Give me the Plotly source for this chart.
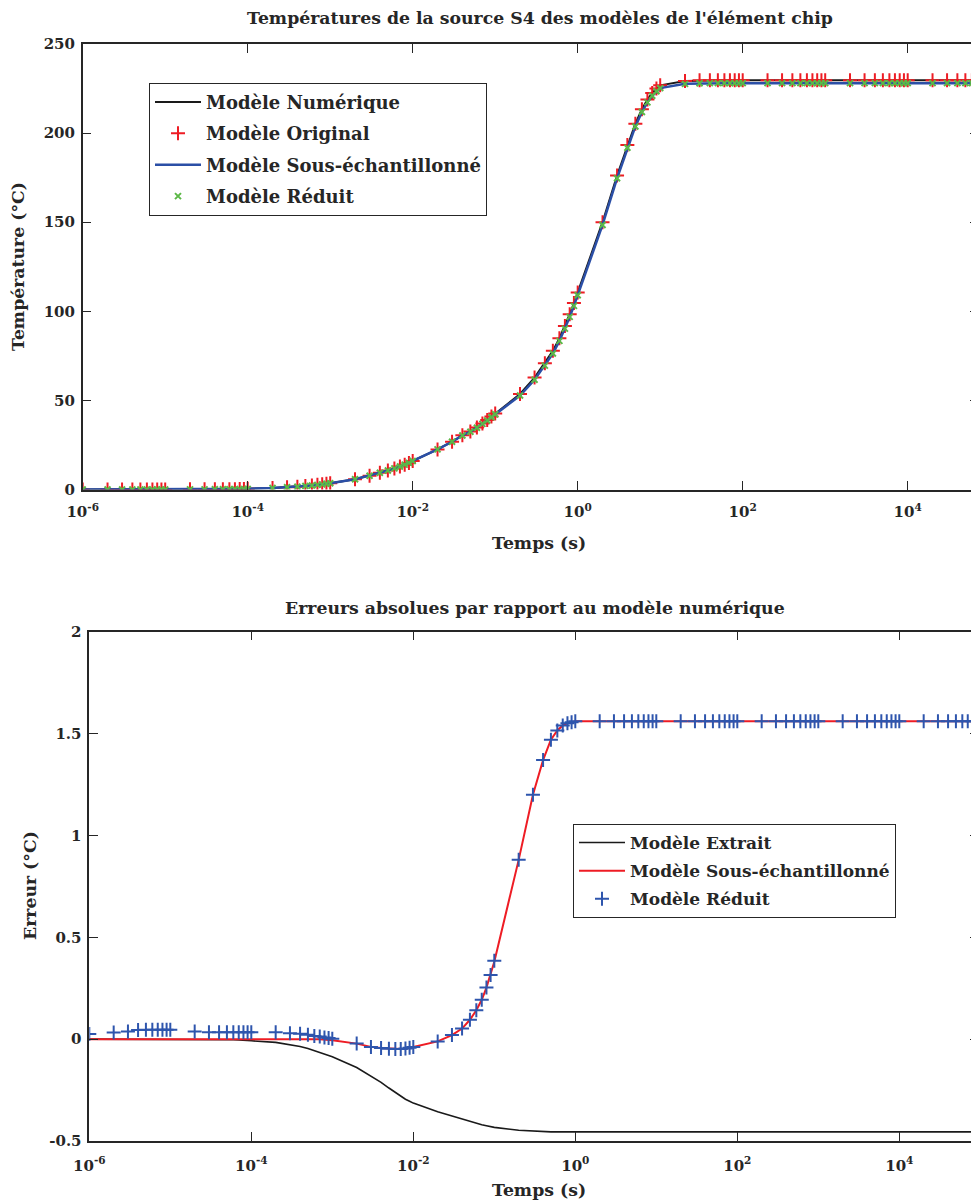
import plotly.graph_objects as go

# ---------------- data ----------------
temps = [1e-6, 2e-6, 3e-6, 4e-6, 5e-6, 6e-6, 7e-6, 8e-6, 9e-6,
         1e-5, 2e-5, 3e-5, 4e-5, 5e-5, 6e-5, 7e-5, 8e-5, 9e-5,
         1e-4, 2e-4, 3e-4, 4e-4, 5e-4, 6e-4, 7e-4, 8e-4, 9e-4,
         1e-3, 2e-3, 3e-3, 4e-3, 5e-3, 6e-3, 7e-3, 8e-3, 9e-3,
         1e-2, 2e-2, 3e-2, 4e-2, 5e-2, 6e-2, 7e-2, 8e-2, 9e-2,
         0.1, 0.2, 0.3, 0.4, 0.5, 0.6, 0.7, 0.8, 0.9,
         1, 2, 3, 4, 5, 6, 7, 8, 9,
         10, 20, 30, 40, 50, 60, 70, 80, 90,
         100, 200, 300, 400, 500, 600, 700, 800, 900,
         1000, 2000, 3000, 4000, 5000, 6000, 7000, 8000, 9000,
         10000, 20000, 30000, 40000, 50000, 60000, 70000, 80000, 90000,
         100000]

temp_numerique = [0.02, 0.03, 0.04, 0.04, 0.05, 0.05, 0.06, 0.06, 0.07,
                  0.07, 0.10, 0.12, 0.14, 0.16, 0.18, 0.20, 0.22, 0.24,
                  0.40, 0.90, 1.30, 1.60, 2.00, 2.30, 2.60, 2.90, 3.20,
                  3.50, 5.70, 7.70, 9.40, 10.6, 11.8, 12.9, 13.9, 14.9,
                  16.0, 22.5, 26.8, 30.4, 32.5, 34.8, 37.0, 39.0, 40.9,
                  42.6, 53.6, 62.8, 70.9, 77.8, 84.9, 91.8, 98.4, 104.6,
                  110.6, 150.0, 176.2, 193.3, 205.3, 213.4, 218.8, 222.5, 225.0,
                  226.8, 229.2, 229.5, 229.6, 229.6, 229.6, 229.6, 229.6, 229.6,
                  229.6, 229.6, 229.6, 229.6, 229.6, 229.6, 229.6, 229.6, 229.6,
                  229.6, 229.6, 229.6, 229.6, 229.6, 229.6, 229.6, 229.6, 229.6,
                  229.6, 229.6, 229.6, 229.6, 229.6, 229.6, 229.6, 229.6, 229.6,
                  229.6]

temp_original = [0.02, 0.03, 0.04, 0.04, 0.05, 0.05, 0.06, 0.06, 0.07,
                 0.07, 0.10, 0.12, 0.14, 0.16, 0.18, 0.20, 0.22, 0.24,
                 0.40, 0.90, 1.30, 1.60, 2.00, 2.30, 2.60, 2.90, 3.20,
                 3.50, 5.70, 7.70, 9.40, 10.6, 11.8, 12.9, 13.9, 14.9,
                 16.0, 22.5, 26.8, 30.4, 32.5, 34.8, 37.0, 39.0, 40.9,
                 42.6, 53.6, 62.8, 70.9, 77.8, 84.9, 91.8, 98.4, 104.6,
                 110.6, 150.0, 176.2, 193.3, 205.3, 213.4, 218.8, 222.5, 225.0,
                 226.8, 229.3, 229.6, 229.7, 229.7, 229.7, 229.7, 229.7, 229.7,
                 229.7, 229.7, 229.7, 229.7, 229.7, 229.7, 229.7, 229.7, 229.7,
                 229.7, 229.7, 229.7, 229.7, 229.7, 229.7, 229.7, 229.7, 229.7,
                 229.7, 229.7, 229.7, 229.7, 229.7, 229.7, 229.7, 229.7, 229.7,
                 229.7]

temp_sous_ech = [0.02, 0.03, 0.04, 0.04, 0.05, 0.05, 0.06, 0.06, 0.07,
                 0.07, 0.10, 0.12, 0.14, 0.16, 0.18, 0.20, 0.22, 0.24,
                 0.40, 0.90, 1.30, 1.60, 2.00, 2.30, 2.60, 2.90, 3.20,
                 3.51, 5.72, 7.74, 9.44, 10.65, 11.85, 12.95, 13.95, 14.94,
                 16.04, 22.51, 26.78, 30.35, 32.41, 34.66, 36.81, 38.75, 40.59,
                 42.22, 52.72, 61.60, 69.53, 76.33, 83.39, 90.26, 96.85, 103.04,
                 109.04, 148.44, 174.64, 191.74, 203.74, 211.84, 217.24, 220.94, 223.44,
                 225.24, 227.64, 227.94, 228.04, 228.04, 228.04, 228.04, 228.04, 228.04,
                 228.04, 228.04, 228.04, 228.04, 228.04, 228.04, 228.04, 228.04, 228.04,
                 228.04, 228.04, 228.04, 228.04, 228.04, 228.04, 228.04, 228.04, 228.04,
                 228.04, 228.04, 228.04, 228.04, 228.04, 228.04, 228.04, 228.04, 228.04,
                 228.04]

temp_reduit = [0.00, 0.00, 0.00, 0.00, 0.00, 0.00, 0.01, 0.01, 0.02,
               0.02, 0.06, 0.09, 0.11, 0.13, 0.15, 0.17, 0.19, 0.21,
               0.37, 0.87, 1.27, 1.57, 1.98, 2.28, 2.59, 2.89, 3.20,
               3.50, 5.72, 7.74, 9.44, 10.65, 11.85, 12.95, 13.95, 14.94,
               16.04, 22.51, 26.78, 30.35, 32.41, 34.66, 36.81, 38.75, 40.59,
               42.22, 52.72, 61.60, 69.53, 76.33, 83.39, 90.26, 96.85, 103.04,
               109.04, 148.44, 174.64, 191.74, 203.74, 211.84, 217.24, 220.94, 223.44,
               225.24, 227.64, 227.94, 228.04, 228.04, 228.04, 228.04, 228.04, 228.04,
               228.04, 228.04, 228.04, 228.04, 228.04, 228.04, 228.04, 228.04, 228.04,
               228.04, 228.04, 228.04, 228.04, 228.04, 228.04, 228.04, 228.04, 228.04,
               228.04, 228.04, 228.04, 228.04, 228.04, 228.04, 228.04, 228.04, 228.04,
               228.04]

err_extrait = [0.000, 0.000, 0.000, 0.000, 0.000, 0.000, 0.000, 0.000, 0.000,
               0.000, 0.000, 0.000, -0.001, -0.002, -0.003, -0.004, -0.005, -0.006,
               -0.008, -0.016, -0.026, -0.036, -0.046, -0.056, -0.065, -0.075, -0.081,
               -0.086, -0.139, -0.180, -0.212, -0.240, -0.262, -0.280, -0.295, -0.305,
               -0.314, -0.356, -0.377, -0.393, -0.405, -0.414, -0.420, -0.425, -0.429,
               -0.433, -0.447, -0.452, -0.454, -0.455, -0.455, -0.455, -0.455, -0.455,
               -0.455, -0.455, -0.455, -0.455, -0.455, -0.455, -0.455, -0.455, -0.455,
               -0.455, -0.455, -0.455, -0.455, -0.455, -0.455, -0.455, -0.455, -0.455,
               -0.455, -0.455, -0.455, -0.455, -0.455, -0.455, -0.455, -0.455, -0.455,
               -0.455, -0.455, -0.455, -0.455, -0.455, -0.455, -0.455, -0.455, -0.455,
               -0.455, -0.455, -0.455, -0.455, -0.455, -0.455, -0.455, -0.455, -0.455,
               -0.455]

err_sous_ech = [0.000, 0.000, 0.000, 0.000, 0.000, 0.001, 0.001, 0.001, 0.002,
                0.002, 0.003, 0.003, 0.003, 0.003, 0.003, 0.003, 0.003, 0.003,
                0.003, 0.003, 0.002, 0.002, 0.001, 0.000, -0.001, -0.002, -0.003,
                -0.005, -0.022, -0.038, -0.044, -0.047, -0.049, -0.049, -0.047, -0.043,
                -0.039, -0.011, 0.020, 0.052, 0.095, 0.142, 0.193, 0.253, 0.315,
                0.380, 0.880, 1.200, 1.370, 1.470, 1.515, 1.540, 1.550, 1.556,
                1.560, 1.560, 1.560, 1.560, 1.560, 1.560, 1.560, 1.560, 1.560,
                1.560, 1.560, 1.560, 1.560, 1.560, 1.560, 1.560, 1.560, 1.560,
                1.560, 1.560, 1.560, 1.560, 1.560, 1.560, 1.560, 1.560, 1.560,
                1.560, 1.560, 1.560, 1.560, 1.560, 1.560, 1.560, 1.560, 1.560,
                1.560, 1.560, 1.560, 1.560, 1.560, 1.560, 1.560, 1.560, 1.560,
                1.560]

err_reduit = [0.025, 0.033, 0.038, 0.045, 0.046, 0.046, 0.046, 0.046, 0.046,
              0.046, 0.038, 0.034, 0.034, 0.034, 0.034, 0.034, 0.034, 0.034,
              0.034, 0.034, 0.029, 0.027, 0.021, 0.016, 0.013, 0.008, 0.005,
              0.002, -0.021, -0.038, -0.044, -0.047, -0.049, -0.049, -0.046, -0.042,
              -0.038, -0.011, 0.020, 0.052, 0.095, 0.142, 0.193, 0.253, 0.315,
              0.385, 0.880, 1.200, 1.370, 1.470, 1.515, 1.540, 1.550, 1.556,
              1.560, 1.560, 1.560, 1.560, 1.560, 1.560, 1.560, 1.560, 1.560,
              1.560, 1.560, 1.560, 1.560, 1.560, 1.560, 1.560, 1.560, 1.560,
              1.560, 1.560, 1.560, 1.560, 1.560, 1.560, 1.560, 1.560, 1.560,
              1.560, 1.560, 1.560, 1.560, 1.560, 1.560, 1.560, 1.560, 1.560,
              1.560, 1.560, 1.560, 1.560, 1.560, 1.560, 1.560, 1.560, 1.560,
              1.560]

x_tickvals = [1e-6, 1e-4, 1e-2, 1, 1e2, 1e4]
x_ticktext = ["10<sup>-6</sup>", "10<sup>-4</sup>", "10<sup>-2</sup>",
              "10<sup>0</sup>", "10<sup>2</sup>", "10<sup>4</sup>"]
y1_ticks = [0, 50, 100, 150, 200, 250]
y2_tickvals = [-0.5, 0, 0.5, 1, 1.5, 2]
y2_ticktext = ["-0.5", "0", "0.5", "1", "1.5", "2"]

# ---------------- styling ----------------
OFF = 8                      # page body margin of the browser
VW, VH = 979, 1200           # viewport
W, H = VW - OFF, VH - OFF    # figure size
FONT = "DejaVu Serif"
INK = "#262626"


def vx(p):
    """viewport x pixel -> paper fraction"""
    return (p - OFF) / W


def vy(p):
    """viewport y pixel -> paper fraction"""
    return 1 - (p - OFF) / H


fig = go.Figure()

# top chart
fig.add_trace(go.Scatter(x=temps, y=temp_numerique, mode="lines", name="Modèle Numérique",
                         line=dict(color="#1a1a1a", width=2), xaxis="x", yaxis="y",
                         legend="legend", legendgroup="a"))
fig.add_trace(go.Scatter(x=temps, y=temp_original, mode="markers", name="Modèle Original",
                         marker=dict(symbol="cross-thin", size=10, color="#ee1c24",
                                     line=dict(color="#ee1c24", width=2)),
                         xaxis="x", yaxis="y", legend="legend", legendgroup="b"))
fig.add_trace(go.Scatter(x=temps, y=temp_sous_ech, mode="lines", name="Modèle Sous-échantillonné",
                         line=dict(color="#2b4fa6", width=2.5), xaxis="x", yaxis="y",
                         legend="legend", legendgroup="c"))
fig.add_trace(go.Scatter(x=temps, y=temp_reduit, mode="markers", name="Modèle Réduit",
                         marker=dict(symbol="x-thin", size=6, color="#5cb847",
                                     line=dict(color="#5cb847", width=2)),
                         xaxis="x", yaxis="y", legend="legend", legendgroup="d"))

# bottom chart
fig.add_trace(go.Scatter(x=temps, y=err_extrait, mode="lines", name="Modèle Extrait",
                         line=dict(color="#1a1a1a", width=1.6), xaxis="x2", yaxis="y2",
                         legend="legend2", legendgroup="e"))
fig.add_trace(go.Scatter(x=temps, y=err_sous_ech, mode="lines", name="Modèle Sous-échantillonné",
                         line=dict(color="#ee1c24", width=2), xaxis="x2", yaxis="y2",
                         legend="legend2", legendgroup="f"))
fig.add_trace(go.Scatter(x=temps, y=err_reduit, mode="markers", name="Modèle Réduit",
                         marker=dict(symbol="cross-thin", size=10, color="#2e55ad",
                                     line=dict(color="#2e55ad", width=2)),
                         xaxis="x2", yaxis="y2", legend="legend2", legendgroup="g"))

tickfont = dict(family=FONT, size=15, color=INK, weight="bold")
common_axis = dict(showline=True, linecolor=INK, linewidth=1.5, mirror="ticks",
                   ticks="inside", ticklen=9, tickwidth=1, tickcolor=INK,
                   showgrid=False, zeroline=False, tickfont=tickfont,
                   automargin=False)

fig.update_layout(
    width=W, height=H,
    margin=dict(l=0, r=0, t=0, b=0, autoexpand=False),
    paper_bgcolor="white", plot_bgcolor="white",
    font=dict(family=FONT, color=INK),
    xaxis=dict(type="log", range=[-6, -6 + (VW - 82.7) / 82.5],
               domain=[vx(82.7), 1], anchor="y",
               tickvals=x_tickvals, ticktext=x_ticktext, ticklabelstandoff=8,
               **common_axis),
    yaxis=dict(range=[0, 250], domain=[vy(489.5), vy(44)], anchor="x",
               tickvals=y1_ticks, ticklabelstandoff=3, **common_axis),
    xaxis2=dict(type="log", range=[-6, -6 + (VW - 89.3) / 81.0],
                domain=[vx(89.3), 1], anchor="y2",
                tickvals=x_tickvals, ticktext=x_ticktext, ticklabelstandoff=10,
                **common_axis),
    yaxis2=dict(range=[-0.5, 2], domain=[vy(1141), vy(631.7)], anchor="x2",
                tickvals=y2_tickvals, ticktext=y2_ticktext, ticklabelstandoff=3,
                **common_axis),
    legend=dict(x=vx(149), y=vy(82.7), xanchor="left", yanchor="top",
                bgcolor="white", bordercolor=INK, borderwidth=1,
                traceorder="grouped", tracegroupgap=5, itemwidth=46,
                font=dict(family=FONT, size=18, color=INK, weight="bold")),
    legend2=dict(x=vx(573), y=vy(824), xanchor="left", yanchor="top",
                 bgcolor="white", bordercolor=INK, borderwidth=1,
                 traceorder="grouped", tracegroupgap=3, itemwidth=46,
                 font=dict(family=FONT, size=17, color=INK, weight="bold")),
)

ann_font = dict(family=FONT, size=17.3, color=INK, weight="bold")
annotations = [
    dict(text="Températures de la source S4 des modèles de l'élément chip",
         x=vx(540), y=vy(18), xref="paper", yref="paper", showarrow=False,
         xanchor="center", yanchor="middle", font=ann_font),
    dict(text="Temps (s)", x=vx(539), y=vy(543), xref="paper", yref="paper", showarrow=False,
         xanchor="center", yanchor="middle", font=ann_font),
    dict(text="Température (°C)", x=vx(18), y=vy(267), xref="paper", yref="paper",
         showarrow=False, textangle=-90, xanchor="center", yanchor="middle", font=ann_font),
    dict(text="Erreurs absolues par rapport au modèle numérique",
         x=vx(535), y=vy(608), xref="paper", yref="paper", showarrow=False,
         xanchor="center", yanchor="middle", font=ann_font),
    dict(text="Temps (s)", x=vx(539), y=vy(1190), xref="paper", yref="paper", showarrow=False,
         xanchor="center", yanchor="middle", font=ann_font),
    dict(text="Erreur (°C)", x=vx(30), y=vy(886), xref="paper", yref="paper",
         showarrow=False, textangle=-90, xanchor="center", yanchor="middle", font=ann_font),
]
fig.update_layout(annotations=annotations)

fig.write_html("out.html")
